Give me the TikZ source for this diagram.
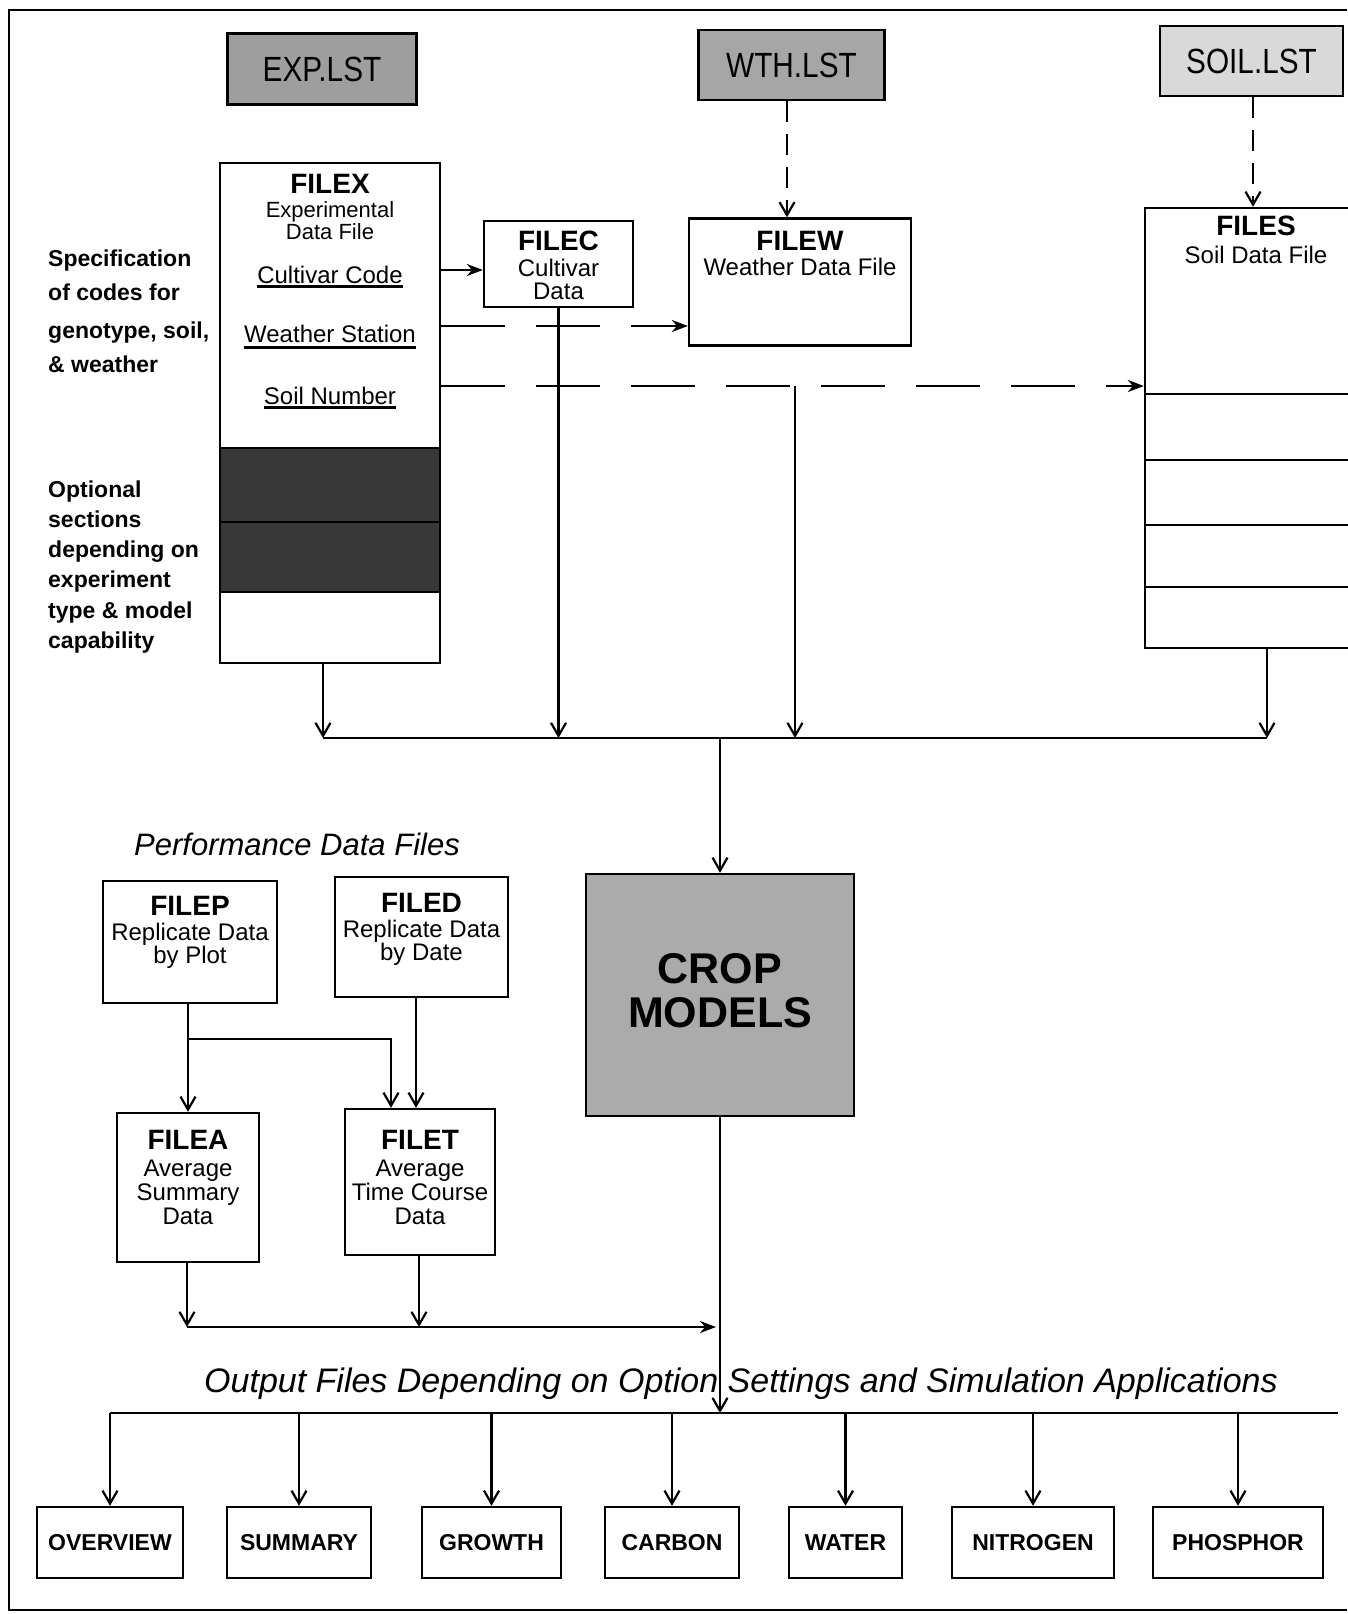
\documentclass[tikz,border=0pt]{standalone}
\usepackage{fontspec}
\setmainfont{Liberation Sans}
\usepackage{graphicx}
\usetikzlibrary{arrows.meta}
\begin{document}
\begin{tikzpicture}[x=1pt,y=-1pt,
  box/.style={draw, line width=2.4pt, inner sep=0pt},
  ln/.style={line width=2.2pt},
  arr/.style={ln, -{Straight Barb[length=13pt,width=15pt,line width=2.2pt]}},
  harr/.style={ln, -{Stealth[length=16pt,width=12pt]}},
  dh/.style={ln, dash pattern=on 64pt off 31pt},
  dv/.style={ln, dash pattern=on 21pt off 12pt},
  ttl/.style={inner sep=0pt, anchor=base, font=\fontsize{28}{30}\selectfont\bfseries},
  sub/.style={inner sep=0pt, anchor=base, font=\fontsize{24}{26}\selectfont},
  subs/.style={inner sep=0pt, anchor=base, font=\fontsize{22}{24}\selectfont},
  side/.style={inner sep=0pt, anchor=base west, font=\fontsize{23}{25}\selectfont\bfseries},
  lst/.style={box, font=\fontsize{35}{36}\selectfont},
  outbox/.style={box, minimum height=71pt, font=\fontsize{23}{25}\selectfont\bfseries},
  bigttl/.style={inner sep=0pt, anchor=base, font=\fontsize{43}{45}\selectfont\bfseries},
  head/.style={inner sep=0pt, font=\itshape}
]
\useasboundingbox (0,0) rectangle (1347,1614);
% frame
\draw[line width=1.6pt] (1347,10) -- (9,10) -- (9,1610) -- (1347,1610);

% list files
\node[lst, fill=black!38, minimum width=189pt, minimum height=71pt] (exp) at (322,69) {\scalebox{0.85}[1]{EXP.LST}};
\node[lst, fill=black!35, minimum width=186pt, minimum height=70pt] (wth) at (791.5,65) {\scalebox{0.85}[1]{WTH.LST}};
\node[lst, fill=black!15, minimum width=183pt, minimum height=70pt] (soil) at (1251.5,61) {\scalebox{0.85}[1]{SOIL.LST}};

% FILEX
\fill[black!78] (220,448) rectangle (440,592);
\node[box, minimum width=220pt, minimum height=500pt] (fx) at (330,413) {};
\draw[ln] (fx.west |- 0,448) -- (fx.east |- 0,448);
\draw[ln] (fx.west |- 0,522) -- (fx.east |- 0,522);
\draw[ln] (fx.west |- 0,592) -- (fx.east |- 0,592);
\node[ttl] (fxt) at (330,193) {FILEX};
\node[subs] (fx1) at (330,217) {Experimental};
\node[subs] (fx2) at (330,239) {Data File};
\node[sub] (fx3) at (330,283) {Cultivar Code};
\node[sub] (fx4) at (330,342) {Weather Station};
\node[sub] (fx5) at (330,404) {Soil Number};
\draw[ln] ([yshift=-3pt]fx3.south west) -- ([yshift=-3pt]fx3.south east);
\draw[ln] ([yshift=-5pt]fx4.south west) -- ([yshift=-5pt]fx4.south east);
\draw[ln] ([yshift=-3pt]fx5.south west) -- ([yshift=-3pt]fx5.south east);

% side texts
\node[side] (sa1) at (48,266) {Specification};
\node[side] (sa2) at (48,300) {of codes for};
\node[side] (sa3) at (48,338) {genotype, soil,};
\node[side] (sa4) at (48,372) {\& weather};
\node[side] (sb1) at (48,497) {Optional};
\node[side] (sb2) at (48,527) {sections};
\node[side] (sb3) at (48,557) {depending on};
\node[side] (sb4) at (48,587) {experiment};
\node[side] (sb5) at (48,618) {type \& model};
\node[side] (sb6) at (48,648) {capability};

% FILEC
\node[box, minimum width=149pt, minimum height=86pt] (fc) at (558.5,264) {};
\node[ttl] (fct) at (558.5,250) {FILEC};
\node[sub] (fc1) at (558.5,276) {Cultivar};
\node[sub] (fc2) at (558.5,299) {Data};

% FILEW
\node[box, minimum width=222pt, minimum height=127pt] (fw) at (800,282) {};
\node[ttl] (fwt) at (800,250) {FILEW};
\node[sub] (fw1) at (800,275) {Weather Data File};

% FILES
\node[box, minimum width=260pt, minimum height=440pt] (fs) at (1275,428) {};
\node[ttl] (fst) at (1256,235) {FILES};
\node[sub] (fs1) at (1256,263) {Soil Data File};
\draw[ln] (fs.west |- 0,394) -- (fs.east |- 0,394);
\draw[ln] (fs.west |- 0,460) -- (fs.east |- 0,460);
\draw[ln] (fs.west |- 0,525) -- (fs.east |- 0,525);
\draw[ln] (fs.west |- 0,587) -- (fs.east |- 0,587);

% top connectors
\draw[dv, -{Straight Barb[length=13pt,width=15pt,line width=2.2pt]}] (wth.south -| 787,0) -- (fw.north -| 787,0);
\draw[dv, -{Straight Barb[length=13pt,width=15pt,line width=2.2pt]}] (soil.south -| 1253,0) -- (fs.north -| 1253,0);
\draw[harr] (fx.east |- 0,270) -- (fc.west |- 0,270);
\draw[dh, -{Stealth[length=16pt,width=12pt]}] (fx.east |- 0,326) -- (fw.west |- 0,326);
\draw[dh, -{Stealth[length=16pt,width=12pt]}] (fx.east |- 0,386) -- (fs.west |- 0,386);

% CROP MODELS
\node[box, fill=black!33, minimum width=268pt, minimum height=242pt] (crop) at (720,995) {};
\node[bigttl] (cr1) at (720,983) {CROP};
\node[bigttl] (cr2) at (720,1027) {MODELS};

% collector
\coordinate (c1) at (323,738);
\coordinate (sj) at (795,386);
\coordinate (c3) at (795,738);
\coordinate (c4) at (1267,738);
\draw[ln] (c1) -- (c4);
\draw[arr] (fx.south -| c1) -- (c1);
\draw[arr] (fc.south) -- (fc.south |- c1);
\draw[arr] (sj) -- (c3);
\draw[arr] (fs.south -| c4) -- (c4);
\draw[arr] (crop.north |- c1) -- (crop.north);

% performance data files
\node[head, anchor=base west, font=\fontsize{31}{33}\selectfont\itshape] (perf) at (134,855) {Performance Data Files};
\node[box, minimum width=174pt, minimum height=122pt] (fp) at (190,942) {};
\node[ttl] (fpt) at (190,915) {FILEP};
\node[sub] (fp1) at (190,940) {Replicate Data};
\node[sub] (fp2) at (190,963) {by Plot};
\node[box, minimum width=173pt, minimum height=120pt] (fd) at (421.5,937) {};
\node[ttl] (fdt) at (421.5,912) {FILED};
\node[sub] (fd1) at (421.5,937) {Replicate Data};
\node[sub] (fd2) at (421.5,960) {by Date};
\node[box, minimum width=142pt, minimum height=149pt] (fa) at (188,1187.5) {};
\node[ttl] (fat) at (188,1149) {FILEA};
\node[sub] (fa1) at (188,1176) {Average};
\node[sub] (fa2) at (188,1200) {Summary};
\node[sub] (fa3) at (188,1224) {Data};
\node[box, minimum width=150pt, minimum height=146pt] (ft) at (420,1182) {};
\node[ttl] (ftt) at (420,1149) {FILET};
\node[sub] (ft1) at (420,1176) {Average};
\node[sub] (ft2) at (420,1200) {Time Course};
\node[sub] (ft3) at (420,1224) {Data};

\coordinate (pb) at (188,1039);
\coordinate (pb2) at (391,1039);
\draw[arr] (fa.north |- fp.south) -- (fa.north);
\draw[arr] (pb) -- (pb2) -- (pb2 |- ft.north);
\draw[arr] (fd.south -| 416,0) -- (ft.north -| 416,0);
\coordinate (pa) at (187,1327);
\coordinate (pt) at (419,1327);
\coordinate (pe) at (716,1327);
\draw[arr] (fa.south -| pa) -- (pa);
\draw[arr] (ft.south -| pt) -- (pt);
\draw[harr] (pa) -- (pe);

% output
\node[head, anchor=base, font=\fontsize{34}{36}\selectfont\itshape] (outh) at (741,1392) {Output Files Depending on Option Settings and Simulation Applications};
\node[outbox, minimum width=146pt] (o1) at (110,1542.5) {OVERVIEW};
\node[outbox, minimum width=144pt] (o2) at (299,1542.5) {SUMMARY};
\node[outbox, minimum width=139pt] (o3) at (491.5,1542.5) {GROWTH};
\node[outbox, minimum width=134pt] (o4) at (672,1542.5) {CARBON};
\node[outbox, minimum width=113pt] (o5) at (845.5,1542.5) {WATER};
\node[outbox, minimum width=162pt] (o6) at (1033,1542.5) {NITROGEN};
\node[outbox, minimum width=170pt] (o7) at (1238,1542.5) {PHOSPHOR};
\coordinate (bus) at (720,1413);
\coordinate (busr) at (1338,1413);
\draw[arr] (crop.south) -- (crop.south |- bus);
\draw[ln] (o1.north |- bus) -- (busr);
\foreach \k in {1,...,7} {
  \draw[arr] (o\k.north |- bus) -- (o\k.north);
}
\end{tikzpicture}
\end{document}
